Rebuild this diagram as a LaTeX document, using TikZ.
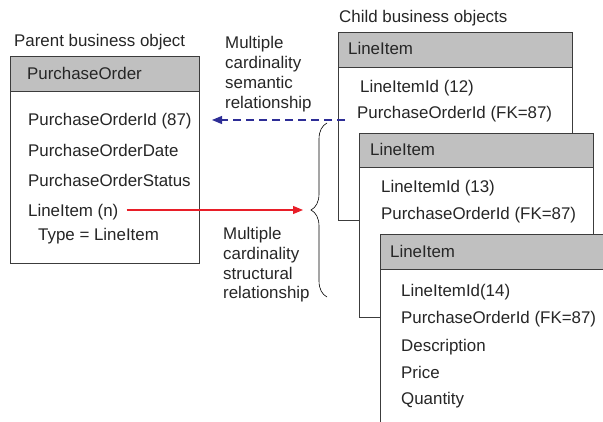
\documentclass[tikz,border=0pt]{standalone}
\usepackage{fontspec}
\setmainfont{Liberation Sans}
\usetikzlibrary{arrows.meta,decorations.pathreplacing}
\definecolor{hdr}{RGB}{192,192,192}
\definecolor{boxline}{RGB}{60,60,60}
\definecolor{redarr}{RGB}{232,30,40}
\definecolor{bluearr}{RGB}{45,45,150}
\tikzset{
  txt/.style={anchor=base west, inner sep=0pt, font=\fontsize{16.9}{20}\selectfont, text=black!85},
  boxbody/.style={draw=boxline, line width=0.8pt, fill=white},
  boxhead/.style={draw=boxline, line width=0.8pt, fill=hdr},
  relarrow/.style={line width=1.1pt, -{Triangle[length=10pt,width=8pt]}},
}
\begin{document}
\begin{tikzpicture}[x=1pt,y=-1pt]
\useasboundingbox (0,0) rectangle (603,422);
\clip (0,0) rectangle (603,422);
% Parent box
\draw[boxbody] (10,56) rectangle (199,263);
\draw[boxhead] (10,56) rectangle (199,91);
\node[txt] (ptitle) at (14,47) {Parent business object};
\node[txt] (phead) at (27,79.5) {PurchaseOrder};
\node[txt] (pid) at (28,126) {PurchaseOrderId (87)};
\node[txt] (pdate) at (28,156.5) {PurchaseOrderDate};
\node[txt] (pstat) at (28,186.5) {PurchaseOrderStatus};
\node[txt] (pline) at (28,216.5) {LineItem (n)};
\node[txt] (ptype) at (38,240.5) {Type = LineItem};
% Child box 1
\node[txt] (ctitle) at (339,22.5) {Child business objects};
\draw[boxbody] (338,32) rectangle (572,220);
\draw[boxhead] (338,32) rectangle (572,67);
\node[txt] (h1) at (348,55) {LineItem};
\node[txt] (c1id) at (360,93) {LineItemId (12)};
\node[txt] (c1fk) at (357,118.5) {PurchaseOrderId (FK=87)};
% Child box 2
\draw[boxbody] (359,133) rectangle (593,317);
\draw[boxhead] (359,133) rectangle (593,167);
\node[txt] (h2) at (370,155.5) {LineItem};
\node[txt] (c2id) at (381,193) {LineItemId (13)};
\node[txt] (c2fk) at (381,219.5) {PurchaseOrderId (FK=87)};
% Child box 3
\draw[boxbody] (380,234) rectangle (640,450);
\draw[boxhead] (380,234) rectangle (640,269);
\node[txt] (h3) at (390,257.5) {LineItem};
\node[txt] (c3id) at (401,296.5) {LineItemId(14)};
\node[txt] (c3fk) at (401,324) {PurchaseOrderId (FK=87)};
\node[txt] (c3desc) at (401,351.5) {Description};
\node[txt] (c3price) at (401,378.5) {Price};
\node[txt] (c3qty) at (401,404.5) {Quantity};
% Labels
\node[txt] (s1) at (225,49) {Multiple};
\node[txt] (s2) at (225,69) {cardinality};
\node[txt] (s3) at (225,89) {semantic};
\node[txt] (s4) at (225,108.5) {relationship};
\node[txt] (t1) at (223,240) {Multiple};
\node[txt] (t2) at (223,260) {cardinality};
\node[txt] (t3) at (223,280) {structural};
\node[txt] (t4) at (223,299) {relationship};
% Brace
\coordinate (bbot) at (327,297);
\coordinate (btop) at (327,123);
\draw[line width=0.6pt, decorate, decoration={brace, amplitude=16pt, aspect=0.5}] (bbot) -- (btop);
\coordinate (btip) at (303,210);
% Arrows
\coordinate (blstart) at (345,120);
\coordinate (blend) at (212,120);
\draw[relarrow, color=bluearr, dash pattern=on 8pt off 5pt] (blstart) -- (blend);
\draw[relarrow, color=redarr] (pline.east |- 0,210) ++(8,0) coordinate (rstart) -- (btip);
\end{tikzpicture}
\end{document}
